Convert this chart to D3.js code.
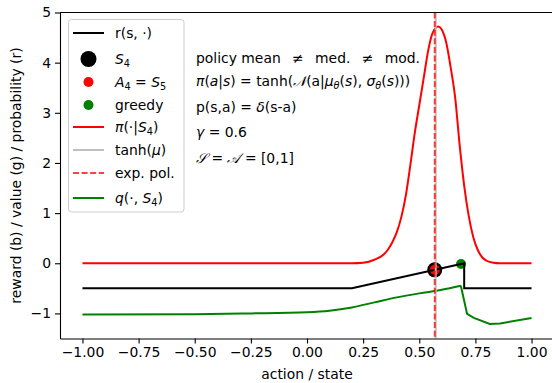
<!DOCTYPE html>
<html>
<head>
<meta charset="utf-8">
<script src="https://cdn.jsdelivr.net/npm/d3@7"></script>
<style>
  body { margin: 0; background: #fff; }
  text { font-family: "DejaVu Sans", sans-serif; white-space: pre; }
</style>
</head>
<body>
<div id="chart"></div>
<script>
const W = 552, H = 383
const font_size = 13.9, line_w = 2

// reward r(s,.)
const rX = [-1, 0.2, 0.7, 0.7, 1]
const rY = [-0.5, -0.5, 0.0, -0.5, -0.5]

// policy density pi(.|S4)
const piX = [-1, 0.2, 0.25, 0.30, 0.34, 0.36, 0.38, 0.40, 0.42, 0.44, 0.46, 0.48, 0.50, 0.52, 0.54, 0.56, 0.585,
    0.60, 0.62, 0.64, 0.66, 0.68, 0.70, 0.72, 0.74, 0.76, 0.78, 0.80, 0.83, 0.86, 1]
const piY = [0, 0, 0.01, 0.07, 0.17, 0.27, 0.42, 0.62, 0.92, 1.35, 1.95, 2.6, 3.15, 3.7, 4.25, 4.6, 4.72,
    4.66, 4.4, 3.9, 3.3, 2.35, 1.55, 0.95, 0.53, 0.27, 0.12, 0.05, 0.01, 0, 0]

// q(.,S4): smooth part up to the greedy action, then piecewise
const qX = [-1, -0.5, -0.25, 0, 0.1, 0.2, 0.3, 0.4, 0.5, 0.6, 0.685]
const qY = [-1.02, -1.015, -1.0, -0.975, -0.945, -0.88, -0.78, -0.68, -0.6, -0.53, -0.45]
const qTailX = [0.685, 0.713, 0.743, 0.814, 0.86, 1]
const qTailY = [-0.45, -1.01, -1.09, -1.21, -1.2, -1.09]

// markers
const s4 = [0.569, -0.131]
const a4 = [0.569, -0.131]
const greedy = [0.686, -0.015]
const tanhMu = 0.573, expPol = 0.569

const xTicks = [-1, -0.75, -0.5, -0.25, 0, 0.25, 0.5, 0.75, 1]
const yTicks = [-1, 0, 1, 2, 3, 4, 5]

const svg = d3.select("#chart").append("svg")
    .attr("width", W).attr("height", H)

const x = d3.scaleLinear().domain([-1.1, 1.1]).range([60, 554])
const y = d3.scaleLinear().domain([-1.5, 5]).range([338.5, 12.5])

function richText(sel, parts) {
    parts.forEach(p => {
        const s = sel.append("tspan").text(p[0])
        if (p[1] === "i") s.attr("font-style", "italic")
        if (p[1] === "sub") s.attr("font-size", font_size * 0.7).attr("font-style", "italic").attr("dy", 3)
        if (p[1] === "num") s.attr("font-size", font_size * 0.7).attr("dy", 3)
        if (p[1] === "up") s.attr("dy", -3)
        if (p[1] === "cal") s.attr("font-family", "DejaVu Serif").attr("font-style", "italic")
    })
}

// text box (behind the curves)
const infoLines = [
    [63, [["policy mean \u2002\u2260\u2002 med. \u2002\u2260\u2002 mod.", ""]]],
    [86, [["\u03c0", "i"], ["(", ""], ["a", "i"], ["|", ""], ["s", "i"], [") = tanh(", ""], ["\ud835\udca9", "cal"],
        ["(a|", ""], ["\u03bc", "i"], ["\u03b8", "sub"], ["(", "up"], ["s", "i"], ["), ", ""], ["\u03c3", "i"], ["\u03b8", "sub"],
        ["(", "up"], ["s", "i"], [")))", ""]]],
    [112, [["p(s,a) = ", ""], ["\u03b4", "i"], ["(s-a)", ""]]],
    [137, [["\u03b3", "i"], [" = 0.6", ""]]],
    [163, [["\ud835\udcae", "cal"], [" = ", ""], ["\ud835\udc9c", "cal"], [" = [0,1]", ""]]],
]
infoLines.forEach(l => {
    const t = svg.append("text").attr("x", 196).attr("y", l[0])
        .attr("font-size", font_size).attr("fill", "black")
    richText(t, l[1])
})

const plot = svg.append("g")
const line = d3.line().x(d => x(d[0])).y(d => y(d[1]))
const smooth = d3.line().x(d => x(d[0])).y(d => y(d[1])).curve(d3.curveMonotoneX)

// markers first, lines go on top
plot.append("circle").attr("cx", x(s4[0])).attr("cy", y(s4[1])).attr("r", 7.5).attr("fill", "black")
plot.append("circle").attr("cx", x(a4[0])).attr("cy", y(a4[1])).attr("r", 5).attr("fill", "red")
plot.append("circle").attr("cx", x(greedy[0])).attr("cy", y(greedy[1])).attr("r", 5).attr("fill", "green")

plot.append("path").datum(d3.zip(rX, rY)).attr("d", line)
    .attr("fill", "none").attr("stroke", "black").attr("stroke-width", line_w)

plot.append("path").datum(d3.zip(piX, piY)).attr("d", smooth)
    .attr("fill", "none").attr("stroke", "red").attr("stroke-width", line_w)

plot.append("path").datum(d3.zip(qX, qY)).attr("d", smooth)
    .attr("fill", "none").attr("stroke", "green").attr("stroke-width", line_w)
plot.append("path").datum(d3.zip(qTailX, qTailY)).attr("d", line)
    .attr("fill", "none").attr("stroke", "green").attr("stroke-width", line_w)

plot.append("line").attr("x1", x(tanhMu)).attr("x2", x(tanhMu)).attr("y1", y(5)).attr("y2", y(-1.5))
    .attr("stroke", "#bfbfbf").attr("stroke-width", line_w)
plot.append("line").attr("x1", x(expPol)).attr("x2", x(expPol)).attr("y1", y(5)).attr("y2", y(-1.5))
    .attr("stroke", "red").attr("stroke-opacity", 0.75).attr("stroke-width", line_w)
    .attr("stroke-dasharray", "6,2.6")

// axes
const xAxis = svg.append("g").attr("transform", "translate(0," + y(-1.5) + ")")
    .call(d3.axisBottom(x).tickValues(xTicks).tickFormat(d3.format(".2f")).tickSize(5).tickSizeOuter(0).tickPadding(4))
const yAxis = svg.append("g").attr("transform", "translate(" + x(-1.1) + ",0)")
    .call(d3.axisLeft(y).tickValues(yTicks).tickFormat(d3.format("d")).tickSize(5).tickSizeOuter(0).tickPadding(4))
;[xAxis, yAxis].forEach(a => {
    a.selectAll("text").attr("font-size", font_size).attr("font-family", "DejaVu Sans").attr("fill", "black")
    a.selectAll("line").attr("stroke", "black").attr("stroke-width", 1.1)
    a.select(".domain").attr("stroke", "black").attr("stroke-width", 1.1)
})
svg.append("line").attr("x1", x(-1.1)).attr("x2", x(1.1)).attr("y1", y(5)).attr("y2", y(5))
    .attr("stroke", "black").attr("stroke-width", 1.1)

svg.append("text").attr("x", (x(-1.1) + x(1.1)) / 2).attr("y", 379)
    .attr("text-anchor", "middle").attr("font-size", font_size).text("action / state")
svg.append("text").attr("transform", "translate(21," + (y(-1.5) + y(5)) / 2 + ") rotate(-90)")
    .attr("text-anchor", "middle").attr("font-size", font_size).text("reward (b) / value (g) / probability (r)")

// legend
const leg = svg.append("g")
leg.append("rect").attr("x", 68.5).attr("y", 19.5).attr("width", 115.5).attr("height", 192.5)
    .attr("rx", 3).attr("fill", "white").attr("fill-opacity", 0.8).attr("stroke", "#cccccc").attr("stroke-width", 1)

const legRows = [
    {label: [["r(s, \u00b7)", ""]], kind: "line", color: "black", y: 33},
    {label: [["S", "i"], ["4", "num"]], kind: "dot", color: "black", r: 8, y: 59},
    {label: [["A", "i"], ["4", "num"], [" = ", "up"], ["S", "i"], ["5", "num"]], kind: "dot", color: "red", r: 5, y: 82},
    {label: [["greedy", ""]], kind: "dot", color: "green", r: 5, y: 105},
    {label: [["\u03c0", "i"], ["(\u00b7|", ""], ["S", "i"], ["4", "num"], [")", "up"]], kind: "line", color: "red", y: 127},
    {label: [["tanh(", ""], ["\u03bc", "i"], [")", ""]], kind: "line", color: "#bfbfbf", y: 150},
    {label: [["exp. pol.", ""]], kind: "dash", color: "red", y: 173},
    {label: [["q", "i"], ["(\u00b7, ", ""], ["S", "i"], ["4", "num"], [")", "up"]], kind: "line", color: "green", y: 198},
]
legRows.forEach(r => {
    if (r.kind === "dot") {
        leg.append("circle").attr("cx", 88.5).attr("cy", r.y).attr("r", r.r).attr("fill", r.color)
    } else {
        const l = leg.append("line").attr("x1", 73).attr("x2", 104).attr("y1", r.y).attr("y2", r.y)
            .attr("stroke", r.color).attr("stroke-width", line_w)
        if (r.kind === "dash") l.attr("stroke-opacity", 0.75).attr("stroke-dasharray", "6,2.6")
    }
    const t = leg.append("text").attr("x", 115).attr("y", r.y + 5).attr("font-size", font_size)
    richText(t, r.label)
})
</script>
</body>
</html>
